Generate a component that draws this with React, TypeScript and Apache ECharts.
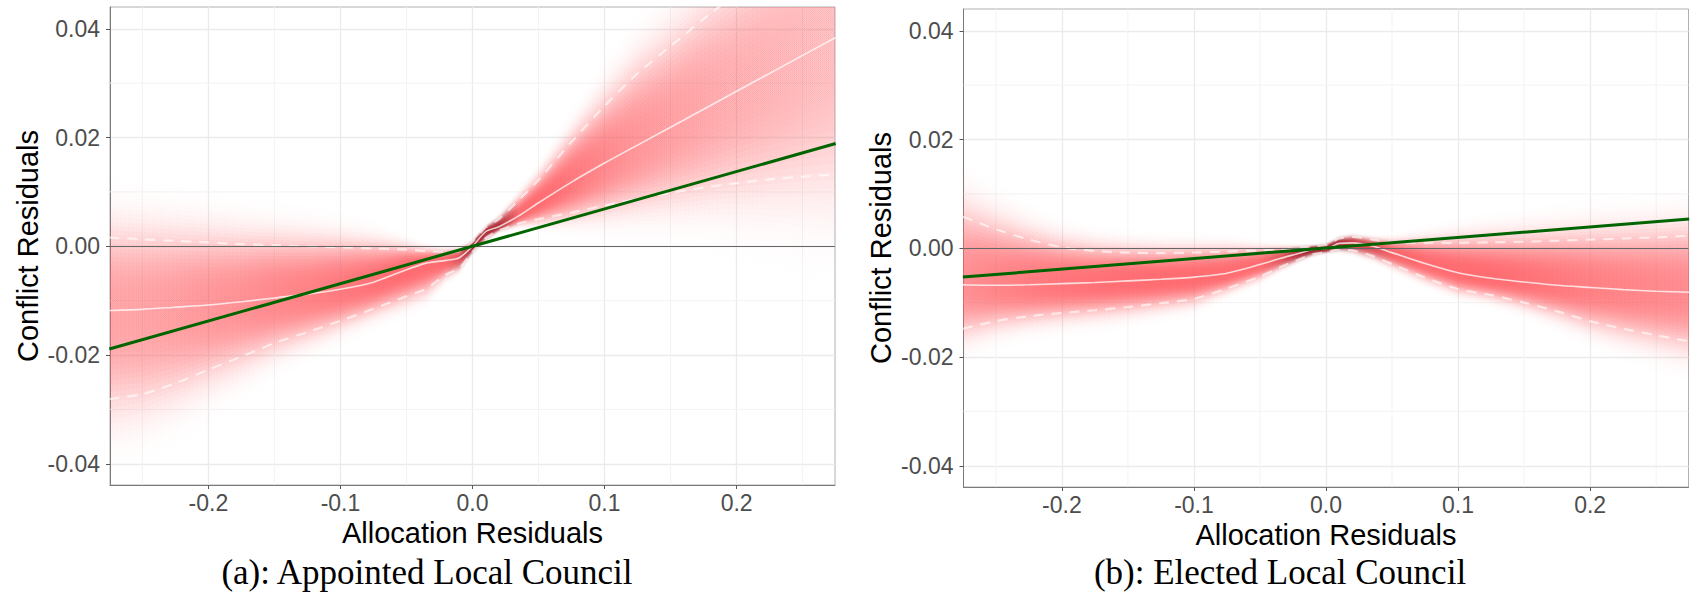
import React, { useEffect, useRef } from 'react';
import * as echarts from 'echarts';

// ---------- data ----------
const xs = [-0.275, -0.25, -0.225, -0.2, -0.175, -0.15, -0.125, -0.1, -0.075, -0.05, -0.035, -0.02, -0.01, 0,
  0.01, 0.02, 0.035, 0.05, 0.075, 0.1, 0.125, 0.15, 0.175, 0.2, 0.225, 0.25, 0.275];

// (a) Appointed Local Council
const medianA = [-0.0118, -0.0116, -0.0112, -0.0108, -0.0102, -0.0095, -0.0088, -0.0079, -0.0066, -0.0043, -0.0031, -0.0026, -0.0021, 0.0,
  0.0027, 0.0036, 0.0056, 0.0080, 0.0118, 0.0153, 0.0186, 0.0219, 0.0252, 0.0285, 0.0318, 0.0351, 0.0384];
const upperA = [0.0016, 0.0013, 0.0010, 0.0007, 0.0004, 0.0002, 0.0000, -0.0002, -0.0004, -0.0006, -0.0009, -0.0010, -0.0008, 0.0008,
  0.0035, 0.0050, 0.0085, 0.0122, 0.0192, 0.0258, 0.0318, 0.0368, 0.0418, 0.0465, 0.0510, 0.0555, 0.0600];
const lowerA = [-0.0281, -0.0272, -0.0252, -0.0227, -0.0203, -0.0178, -0.0158, -0.0137, -0.0115, -0.0092, -0.0078, -0.0052, -0.0040, -0.0010,
  0.0015, 0.0029, 0.0042, 0.0050, 0.0062, 0.0075, 0.0087, 0.0098, 0.0108, 0.0116, 0.0123, 0.0128, 0.0132];
const olsXA = [-0.275, 0.275];
const olsYA = [-0.0189, 0.0189];

// (b) Elected Local Council
const medianB = [-0.0067, -0.0068, -0.0067, -0.0065, -0.0063, -0.0060, -0.0057, -0.0053, -0.0046, -0.0030, -0.0019, -0.0009, -0.0002, -0.0001,
  0.0009, 0.0010, 0.0004, -0.0008, -0.0028, -0.0045, -0.0055, -0.0062, -0.0068, -0.0072, -0.0076, -0.0079, -0.0081];
const upperB = [0.0058, 0.0035, 0.0016, 0.0002, -0.0005, -0.0008, -0.0009, -0.0008, -0.0006, -0.0004, -0.0002, 0.0001, 0.0004, 0.0006,
  0.0018, 0.0021, 0.0016, 0.0011, 0.0010, 0.0010, 0.0011, 0.0012, 0.0014, 0.0016, 0.0018, 0.0020, 0.0023];
const lowerB = [-0.0148, -0.0134, -0.0125, -0.0119, -0.0114, -0.0108, -0.0101, -0.0093, -0.0074, -0.0052, -0.0035, -0.0020, -0.0011, -0.0007,
  -0.0002, -0.0004, -0.0014, -0.0029, -0.0054, -0.0075, -0.0086, -0.0100, -0.0116, -0.0134, -0.0148, -0.0160, -0.0171];
const olsXB = [-0.275, 0.275];
const olsYB = [-0.0053, 0.0054];

// axis ticks
const xTickValues = [-0.2, -0.1, 0, 0.1, 0.2];
const yTickValues = [-0.04, -0.02, 0, 0.02, 0.04];
const xMinorGrid = [-0.25, -0.15, -0.05, 0.05, 0.15, 0.25];
const yMinorGrid = [-0.03, -0.01, 0.01, 0.03];
const X_MIN = -0.2745, X_MAX = 0.2745;
const Y_MIN = -0.0439, Y_MAX = 0.0440;

const titleA = '(a): Appointed Local Council';
const titleB = '(b): Elected Local Council';
const xName = 'Allocation Residuals';
const yName = 'Conflict Residuals';

const SANS = '"Liberation Sans", Arial, Helvetica, sans-serif';
const SERIF = '"Liberation Serif", "Times New Roman", serif';

// ---------- shading (visually weighted band) ----------
const LEVEL_STEP = 0.12;
const LEVEL_COUNT = 30;

function makeShading(med: number[], lo: number[], hi: number[]) {
  return (params: any, api: any) => {
    const n = xs.length;
    const su: number[] = [], sl: number[] = [], tp: number[] = [], hue: number[][] = [];
    for (let i = 0; i < n; i++) {
      const w = Math.max(hi[i] - lo[i], 1e-4);
      const D = 0.025 / w;
      tp[i] = Math.min(0.93, 1 - Math.exp(-D));
      const t = Math.max(0, Math.min(1, (D - 5.5) / 8));
      hue[i] = [Math.round(253 - 103 * t), Math.round(98 - 86 * t), Math.round(103 - 78 * t)];
      su[i] = Math.max(hi[i] - med[i], 2e-4) / 1.96;
      sl[i] = Math.max(med[i] - lo[i], 2e-4) / 1.96;
    }
    const g = (z: number) => Math.exp(-Math.pow(z / 2.1, 3));
    const T = (j: number, i: number) => (j > LEVEL_COUNT ? 0 : tp[i] * g((j - 0.5) * LEVEL_STEP));
    const children: any[] = [];
    for (let j = LEVEL_COUNT; j >= 1; j--) {
      const z = j * LEVEL_STEP;
      const pts: number[][] = [];
      for (let i = 0; i < n; i++) pts.push(api.coord([xs[i], med[i] + z * su[i]]));
      for (let i = n - 1; i >= 0; i--) pts.push(api.coord([xs[i], med[i] - z * sl[i]]));
      const stops = xs.map((x, i) => {
        const a = 1 - (1 - T(j, i)) / (1 - T(j + 1, i));
        return {
          offset: (x - xs[0]) / (xs[n - 1] - xs[0]),
          color: `rgba(${hue[i][0]},${hue[i][1]},${hue[i][2]},${Math.max(0, a).toFixed(4)})`,
        };
      });
      children.push({
        type: 'polygon',
        shape: { points: pts },
        style: { fill: new echarts.graphic.LinearGradient(0, 0, 1, 0, stops) },
        silent: true,
      });
    }
    return { type: 'group', children };
  };
}

// minor grid lines, drawn through the axis scales beneath the shading
function minorGrid(params: any, api: any) {
  const children: any[] = [];
  const style = { stroke: '#f3f3f3', lineWidth: 1 };
  xMinorGrid.forEach((v) => {
    const p0 = api.coord([v, Y_MIN]);
    const p1 = api.coord([v, Y_MAX]);
    children.push({ type: 'line', shape: { x1: p0[0], y1: p0[1], x2: p1[0], y2: p1[1] }, style });
  });
  yMinorGrid.forEach((v) => {
    const p0 = api.coord([X_MIN, v]);
    const p1 = api.coord([X_MAX, v]);
    children.push({ type: 'line', shape: { x1: p0[0], y1: p0[1], x2: p1[0], y2: p1[1] }, style });
  });
  return { type: 'group', children };
}

const pairs = (xv: number[], yv: number[]) => xv.map((x, i) => [x, yv[i]]);

function xAxis(gridIndex: number) {
  return {
    type: 'value', gridIndex, min: X_MIN, max: X_MAX, splitNumber: 5,
    axisLine: { show: true, onZero: false, lineStyle: { color: '#7a7a7a', width: 1 } },
    axisTick: { show: true, length: 4, customValues: xTickValues, lineStyle: { color: '#555' } },
    axisLabel: {
      fontSize: 23, color: '#4d4d4d', fontFamily: SANS, margin: 6, customValues: xTickValues,
      formatter: (v: number) => v.toFixed(1),
    },
    splitLine: { show: true, lineStyle: { color: '#ebebeb', width: 1.3 } },
    name: xName, nameLocation: 'middle', nameGap: 25,
    nameTextStyle: { fontSize: 29, color: '#000', fontFamily: SANS },
  };
}
function yAxis(gridIndex: number) {
  return {
    type: 'value', gridIndex, min: Y_MIN, max: Y_MAX, splitNumber: 4,
    axisLine: { show: true, onZero: false, lineStyle: { color: '#7a7a7a', width: 1 } },
    axisTick: { show: true, length: 4, customValues: yTickValues, lineStyle: { color: '#555' } },
    axisLabel: {
      fontSize: 23, color: '#4d4d4d', fontFamily: SANS, margin: 10, customValues: yTickValues,
      formatter: (v: number) => v.toFixed(2),
    },
    splitLine: { show: true, lineStyle: { color: '#ebebeb', width: 1.3 } },
    name: yName, nameLocation: 'middle', nameGap: 68,
    nameTextStyle: { fontSize: 29, color: '#000', fontFamily: SANS },
  };
}

function panelSeries(idx: number, med: number[], lo: number[], hi: number[], ox: number[], oy: number[]) {
  const common = { xAxisIndex: idx, yAxisIndex: idx, silent: true, animation: false };
  return [
    { ...common, type: 'custom', clip: true, data: [[0, 0]], renderItem: minorGrid },
    { ...common, type: 'custom', clip: true, data: [[0, 0]], renderItem: makeShading(med, lo, hi) },
    {
      ...common, type: 'line', data: pairs(xs, med), symbol: 'none', smooth: 0.25, clip: true,
      lineStyle: { color: 'rgba(255,255,255,0.75)', width: 1.6 },
      markLine: {
        silent: true, symbol: ['none', 'none'], label: { show: false },
        lineStyle: { type: 'solid', color: '#666', width: 1.1 },
        data: [{ yAxis: 0 }],
      },
    },
    {
      ...common, type: 'line', data: pairs(xs, hi), symbol: 'none', smooth: 0.25, clip: true,
      lineStyle: { color: 'rgba(255,255,255,0.6)', width: 2.2, type: [10, 8] },
    },
    {
      ...common, type: 'line', data: pairs(xs, lo), symbol: 'none', smooth: 0.25, clip: true,
      lineStyle: { color: 'rgba(255,255,255,0.6)', width: 2.2, type: [10, 8] },
    },
    {
      ...common, type: 'line', data: pairs(ox, oy), symbol: 'none', clip: true, z: 6,
      lineStyle: { color: '#006400', width: 3 },
    },
  ];
}

export default function App() {
  const ref = useRef<HTMLDivElement>(null);
  useEffect(() => {
    if (!ref.current) return;
    const chart = echarts.init(ref.current, null, { renderer: 'svg' });
    chart.setOption({
      animation: false,
      backgroundColor: '#ffffff',
      grid: [
        { left: 110, top: 7, width: 725, height: 478, show: true, borderColor: '#b0b0b0', borderWidth: 1, backgroundColor: 'transparent' },
        { left: 963.5, top: 9, width: 725, height: 478, show: true, borderColor: '#b0b0b0', borderWidth: 1, backgroundColor: 'transparent' },
      ],
      xAxis: [xAxis(0), xAxis(1)],
      yAxis: [yAxis(0), yAxis(1)],
      series: [
        ...panelSeries(0, medianA, lowerA, upperA, olsXA, olsYA),
        ...panelSeries(1, medianB, lowerB, upperB, olsXB, olsYB),
      ],
      graphic: [
        {
          type: 'text', x: 427, y: 572, silent: true,
          style: { text: titleA, font: `35px ${SERIF}`, fill: '#000', align: 'center', verticalAlign: 'middle', textAlign: 'center', textVerticalAlign: 'middle' },
        },
        {
          type: 'text', x: 1280, y: 572, silent: true,
          style: { text: titleB, font: `35px ${SERIF}`, fill: '#000', align: 'center', verticalAlign: 'middle', textAlign: 'center', textVerticalAlign: 'middle' },
        },
      ],
    });
    return () => chart.dispose();
  }, []);
  return <div ref={ref} style={{ position: 'absolute', left: 0, top: 0, width: 1690, height: 594 }} />;
}
